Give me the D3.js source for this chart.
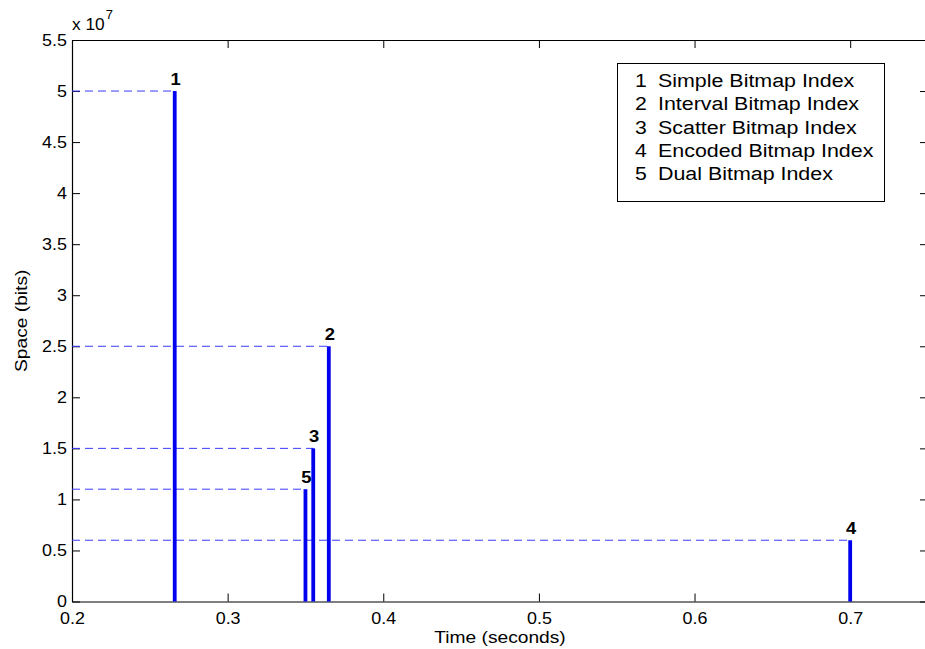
<!DOCTYPE html>
<html>
<head>
<meta charset="utf-8">
<script src="https://cdn.jsdelivr.net/npm/d3@7/dist/d3.min.js"></script>
<style>
  html, body { margin: 0; padding: 0; background: #fff; overflow: hidden; }
  svg { display: block; font-family: "Liberation Sans", Arial, Helvetica, sans-serif; }
</style>
</head>
<body>
<svg id="chart" width="925" height="649"></svg>
<script>
// Index schemes: label number, query time (s) and space (bits)
const labels = ["1", "2", "3", "4", "5"];
const names = ["Simple Bitmap Index", "Interval Bitmap Index", "Scatter Bitmap Index",
               "Encoded Bitmap Index", "Dual Bitmap Index"];
const times = [0.266, 0.365, 0.355, 0.7, 0.35];
const spaces = [5.0e7, 2.5e7, 1.5e7, 0.6e7, 1.1e7];

const xTicks = [0.2, 0.3, 0.4, 0.5, 0.6, 0.7];
const yTicks = [0, 0.5, 1, 1.5, 2, 2.5, 3, 3.5, 4, 4.5, 5, 5.5]; // ×10^7
const xDomain = [0.2, 0.75];
const yDomain = [0, 5.5e7];

const margin = { left: 72, top: 40, right: 928, bottom: 601.5 };
const svg = d3.select("#chart");

const x = d3.scaleLinear().domain(xDomain).range([margin.left, margin.right]);
const y = d3.scaleLinear().domain(yDomain).range([margin.bottom, margin.top]);

const tickLen = 8;
const fontSize = 16;

// Frame and axes (box on, ticks pointing inward)
const axBottom = svg.append("g").attr("transform", `translate(0,${margin.bottom})`)
  .call(d3.axisBottom(x).tickValues(xTicks).tickFormat(d3.format("")).tickSizeInner(-tickLen).tickSizeOuter(0).tickPadding(11.5));
const axTop = svg.append("g").attr("transform", `translate(0,${margin.top})`)
  .call(d3.axisTop(x).tickValues(xTicks).tickFormat("").tickSizeInner(-tickLen).tickSizeOuter(0));
const axLeft = svg.append("g").attr("transform", `translate(${margin.left},0)`)
  .call(d3.axisLeft(y).tickValues(yTicks.map(v => v * 1e7)).tickFormat(v => d3.format("")(+(v / 1e7).toFixed(1))).tickSizeInner(-tickLen).tickSizeOuter(0).tickPadding(5));
const axRight = svg.append("g").attr("transform", `translate(${margin.right},0)`)
  .call(d3.axisRight(y).tickValues(yTicks.map(v => v * 1e7)).tickFormat("").tickSizeInner(-tickLen).tickSizeOuter(0));

[axBottom, axTop, axLeft, axRight].forEach(g => {
  g.select(".domain").attr("stroke", "#000").attr("stroke-width", 1.2);
  g.selectAll(".tick line").attr("stroke", "#000").attr("stroke-width", 1);
  g.selectAll(".tick text").attr("fill", "#000").attr("font-size", fontSize)
    .attr("font-family", "Liberation Sans, Arial, sans-serif");
});
// slightly wide glyphs, as in the exported figure
axBottom.selectAll(".tick text").attr("transform", "scale(1.12,1)");
axLeft.selectAll(".tick text").attr("x", -5 / 1.12).attr("transform", "scale(1.12,1)");

// Exponent marker for the y axis
const expo = svg.append("text").attr("transform", `translate(${margin.left},30) scale(1.08,1)`)
  .attr("font-size", fontSize).attr("fill", "#000");
expo.append("tspan").text("x 10");
expo.append("tspan").attr("dy", -11).attr("dx", 1).attr("font-size", 12).text("7");

// Axis titles
svg.append("text").attr("transform", `translate(${(margin.left + margin.right) / 2},643) scale(1.2,1)`)
  .attr("text-anchor", "middle").attr("font-size", fontSize).attr("fill", "#000")
  .text("Time (seconds)");
svg.append("text").attr("transform", `translate(27,${(margin.top + margin.bottom) / 2}) rotate(-90) scale(1.2,1)`)
  .attr("text-anchor", "middle").attr("font-size", fontSize).attr("fill", "#000")
  .text("Space (bits)");

const data = labels.map((l, i) => ({ label: l, t: times[i], s: spaces[i] }));

// Dashed guides from the y axis to each bar top
svg.append("g").selectAll("line").data(data).join("line")
  .attr("x1", margin.left).attr("x2", d => x(d.t))
  .attr("y1", d => y(d.s)).attr("y2", d => y(d.s))
  .attr("stroke", "#3a3aff").attr("stroke-width", 1)
  .attr("stroke-dasharray", "8,5");

// Stem bars
const barW = 3.8;
svg.append("g").selectAll("rect").data(data).join("rect")
  .attr("x", d => x(d.t) - barW / 2).attr("width", barW)
  .attr("y", d => y(d.s)).attr("height", d => y(0) - y(d.s))
  .attr("fill", "#0000ee");

// Number above each bar
svg.append("g").selectAll("text").data(data).join("text")
  .attr("transform", d => `translate(${x(d.t) + 1},${y(d.s) - 6}) scale(1.15,1)`)
  .attr("text-anchor", "middle").attr("font-size", 16).attr("font-weight", "bold")
  .attr("fill", "#000").text(d => d.label);

// Legend box
const lg = svg.append("g");
lg.append("rect").attr("x", 617.5).attr("y", 63.5).attr("width", 267).attr("height", 138)
  .attr("fill", "#fff").attr("stroke", "#000").attr("stroke-width", 1);
const rows = lg.selectAll("g.row").data(labels.map((l, i) => ({ l, n: names[i] }))).join("g")
  .attr("class", "row")
  .attr("transform", (d, i) => `translate(0,${87 + i * 23.3})`);
rows.append("text").attr("transform", "translate(635,0) scale(1.18,1)")
  .attr("font-size", 18).attr("fill", "#000").text(d => d.l);
rows.append("text").attr("transform", "translate(658,0) scale(1.19,1)")
  .attr("font-size", 18).attr("fill", "#000").text(d => d.n);
</script>
</body>
</html>
